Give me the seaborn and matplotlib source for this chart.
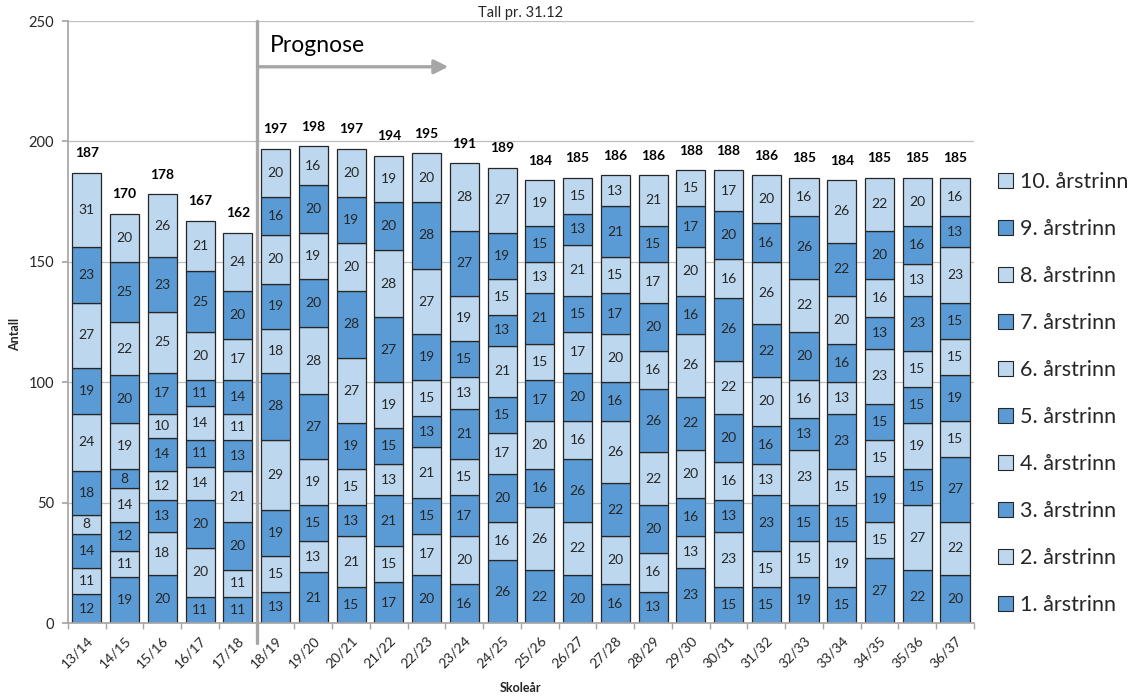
import numpy as np
import pandas as pd
import matplotlib
matplotlib.use('Agg')
import matplotlib.pyplot as plt
import seaborn as sns
from matplotlib.patches import Patch

# school years on the x axis
years = ["13/14", "14/15", "15/16", "16/17", "17/18", "18/19", "19/20", "20/21",
         "21/22", "22/23", "23/24", "24/25", "25/26", "26/27", "27/28", "28/29",
         "29/30", "30/31", "31/32", "32/33", "33/34", "34/35", "35/36", "36/37"]

# pupils per grade (1. to 10. årstrinn), one list per grade
trinn1 = [12, 19, 20, 11, 11, 13, 21, 15, 17, 20, 16, 26, 22, 20, 16, 13, 23, 15, 15, 19, 15, 27, 22, 20]
trinn2 = [11, 11, 18, 20, 11, 15, 13, 21, 15, 17, 20, 16, 26, 22, 20, 16, 13, 23, 15, 15, 19, 15, 27, 22]
trinn3 = [14, 12, 13, 20, 20, 19, 15, 13, 21, 15, 17, 20, 16, 26, 22, 20, 16, 13, 23, 15, 15, 19, 15, 27]
trinn4 = [8, 14, 12, 14, 21, 29, 19, 15, 13, 21, 15, 17, 20, 16, 26, 22, 20, 16, 13, 23, 15, 15, 19, 15]
trinn5 = [18, 8, 14, 11, 13, 28, 27, 19, 15, 13, 21, 15, 17, 20, 16, 26, 22, 20, 16, 13, 23, 15, 15, 19]
trinn6 = [24, 19, 10, 14, 11, 18, 28, 27, 19, 15, 13, 21, 15, 17, 20, 16, 26, 22, 20, 16, 13, 23, 15, 15]
trinn7 = [19, 20, 17, 11, 14, 19, 20, 28, 27, 19, 15, 13, 21, 15, 17, 20, 16, 26, 22, 20, 16, 13, 23, 15]
trinn8 = [27, 22, 25, 20, 17, 20, 19, 20, 28, 27, 19, 15, 13, 21, 15, 17, 20, 16, 26, 22, 20, 16, 13, 23]
trinn9 = [23, 25, 23, 25, 20, 16, 20, 19, 20, 28, 27, 19, 15, 13, 21, 15, 17, 20, 16, 26, 22, 20, 16, 13]
trinn10 = [31, 20, 26, 21, 24, 20, 16, 20, 19, 20, 28, 27, 19, 15, 13, 21, 15, 17, 20, 16, 26, 22, 20, 16]

grades = [trinn1, trinn2, trinn3, trinn4, trinn5, trinn6, trinn7, trinn8, trinn9, trinn10]
grade_names = [f"{i}. årstrinn" for i in range(1, 11)]

DARK  = '#5B9BD5'
LIGHT = '#BDD7EE'
EDGE  = '#262626'
GREY  = '#A6A6A6'

sns.set_theme(style='white')
plt.rcParams['font.family'] = ['Lato', 'DejaVu Sans']

fig = plt.figure(figsize=(11.44, 6.99), dpi=100)
ax = fig.add_axes([0.0594, 0.1087, 0.7919, 0.8612])

bottom = np.zeros(len(years))
for i, vals in enumerate(grades):
    color = DARK if i % 2 == 0 else LIGHT
    df = pd.DataFrame({'year': years, 'n': vals})
    sns.barplot(data=df, x='year', y='n', bottom=bottom, color=color, width=0.77,
                edgecolor=EDGE, linewidth=0.9, errorbar=None, saturation=1, ax=ax)
    for x, (v, b) in enumerate(zip(vals, bottom)):
        ax.text(x, b + v / 2, str(v), ha='center', va='center', fontsize=10, color='#262626')
    bottom = bottom + np.array(vals)

# totals on top
for x, tot in enumerate(bottom):
    ax.annotate(f"{int(tot)}", (x, tot), xytext=(0, 14), textcoords='offset points',
                ha='center', va='center', fontsize=10, fontweight='bold', color='black')

ax.set_xlim(-0.5, len(years) - 0.5)
ax.set_ylim(0, 250)
ax.set_yticks(np.arange(0, 251, 50))
ax.yaxis.grid(True, color='#BFBFBF', lw=0.9)
ax.set_axisbelow(True)
for s in ['top', 'right']:
    ax.spines[s].set_visible(False)
ax.spines['left'].set_color(GREY)
ax.spines['bottom'].set_color(GREY)

ax.tick_params(axis='y', left=True, length=4, color=GREY, labelsize=10.5, labelcolor='#262626', pad=6)
ax.tick_params(axis='x', bottom=False, labelsize=10, labelcolor='#262626', pad=2)
ax.set_xticks(np.arange(-0.5, len(years), 1), minor=True)
ax.tick_params(axis='x', which='minor', bottom=True, length=4, color=GREY)
plt.setp(ax.get_xticklabels(), rotation=45, ha='right', rotation_mode='anchor')

ax.set_xlabel('Skoleår', fontsize=9, fontweight='bold', color='#262626')
ax.xaxis.set_label_coords(0.5, -0.098)
ax.set_ylabel('Antall', fontsize=9, fontweight='bold', color='#262626')
ax.yaxis.set_label_coords(-0.052, 0.48)
ax.set_title('Tall pr. 31.12', fontsize=10.5, color='#262626', pad=3)

# forecast marker
ax.plot([4.5, 4.5], [-8.5, 250], color=GREY, lw=2.4, clip_on=False, zorder=5)
ax.annotate('', xy=(9.65, 231), xytext=(4.5, 231),
            arrowprops=dict(arrowstyle='-|>,head_length=0.7,head_width=0.35', color=GREY, lw=2.4))
ax.text(4.85, 240, 'Prognose', fontsize=16.5, color='black', va='center')

handles = [Patch(facecolor=DARK if i % 2 == 0 else LIGHT, edgecolor=EDGE, lw=0.8)
           for i in range(10)][::-1]
fig.legend(handles, grade_names[::-1], loc='center left', bbox_to_anchor=(0.872, 0.437),
           frameon=False, fontsize=15.5, handlelength=0.7, handleheight=0.7,
           handletextpad=0.35, labelspacing=1.25, borderpad=0, borderaxespad=0)

plt.savefig('out.png', dpi=100)
plt.close()
